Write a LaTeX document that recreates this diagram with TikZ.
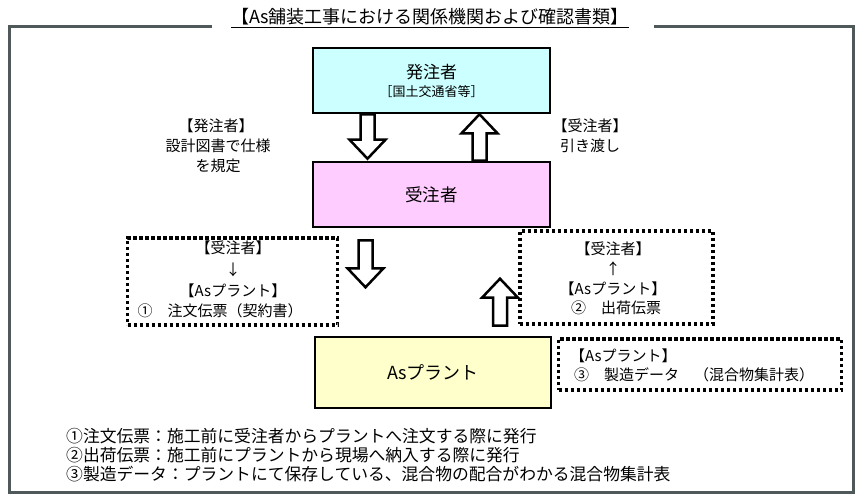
\documentclass[tikz,border=0pt]{standalone}
\usepackage{fontspec}
\setmainfont{Noto Sans CJK JP}
\usetikzlibrary{calc}
\definecolor{framegray}{HTML}{4F5959}
\definecolor{boxcyan}{HTML}{CCFFFF}
\definecolor{boxpink}{HTML}{FFCCFF}
\definecolor{boxyellow}{HTML}{FFFFCC}
\tikzset{
  mainbox/.style={draw=black, line width=2.6pt, minimum width=237pt, minimum height=65pt, inner sep=0pt},
  dotbox/.style={draw=black, line width=3.3pt, dash pattern=on 3.3pt off 2.7pt, inner sep=0pt},
  blk/.style={draw=black, line width=2.5pt, fill=white, line join=miter},
  frameline/.style={draw=framegray, line width=3pt},
  tA/.style={font=\fontsize{15}{18}\selectfont, inner sep=0pt},
  tB/.style={font=\fontsize{17}{20}\selectfont, inner sep=0pt},
  tS/.style={font=\fontsize{13}{16}\selectfont, inner sep=0pt},
  tN/.style={font=\fontsize{16.8}{19}\selectfont, inner sep=0pt, anchor=west},
}
\newcommand{\blkdown}[2]{\draw[blk] let \p1=(#1), \p2=(#2) in (\x1-7pt,\y1) -- (\x1-7pt,\y2+19pt) -- (\x1-18pt,\y2+19pt) -- (\x1,\y2) -- (\x1+18pt,\y2+19pt) -- (\x1+7pt,\y2+19pt) -- (\x1+7pt,\y1) -- cycle;}
\newcommand{\blkup}[2]{\draw[blk] let \p1=(#1), \p2=(#2) in (\x1-7pt,\y1) -- (\x1-7pt,\y2-19pt) -- (\x1-18pt,\y2-19pt) -- (\x1,\y2) -- (\x1+18pt,\y2-19pt) -- (\x1+7pt,\y2-19pt) -- (\x1+7pt,\y1) -- cycle;}
\begin{document}
\begin{tikzpicture}[x=1pt,y=-1pt]
\useasboundingbox[fill=white] (0,0) rectangle (865,502);
% title and frame
\node[font=\fontsize{18}{21}\selectfont, inner sep=0pt] (title) at (430,18) {\underline{【As舗装工事における関係機関および確認書類】}};
\coordinate (fl) at (212,27);
\coordinate (fr) at (654,27);
\draw[frameline] (fl) -- (9,27) -- (9,492) -- (853,492) -- (853,27) -- (fr);
% main boxes
\node[mainbox, fill=boxcyan] (hatchu) at (431.5,80.5) {};
\node[tB] (hatchuT) at (431.5,72) {発注者};
\node[tS] (hatchuS) at (431.5,92) {［国土交通省等］};
\node[mainbox, fill=boxpink, font=\fontsize{17.5}{20}\selectfont] (juchu) at (431.5,194.5) {受注者};
\node[mainbox, fill=boxyellow, minimum width=236pt, minimum height=71pt, font=\fontsize{18}{21}\selectfont] (plant) at (433,372.5) {Asプラント};
% side labels
\node[tA] (lab1a) at (216,126) {【発注者】};
\node[tA] (lab1b) at (218,146) {設計図書で仕様};
\node[tA] (lab1c) at (218,166) {を規定};
\node[tA] (lab2a) at (590,126) {【受注者】};
\node[tA] (lab2b) at (590,146) {引き渡し};
% dotted boxes
\node[dotbox, minimum width=210pt, minimum height=87pt] (order) at (232.5,281.5) {};
\node[tA] (o1) at (233,248) {【受注者】};
\node[tA] (o2) at (233,270) {↓};
\node[tA] (o3) at (233,291) {【Asプラント】};
\node[tA] (o4) at (220,311) {①　注文伝票（契約書）};
\node[dotbox, minimum width=193pt, minimum height=93pt] (ship) at (616.5,277.5) {};
\node[tA] (s1) at (613,249) {【受注者】};
\node[tA] (s2) at (613,269) {↑};
\node[tA] (s3) at (613,289) {【Asプラント】};
\node[tA] (s4) at (616,308) {②　出荷伝票};
\node[dotbox, minimum width=283pt, minimum height=51pt] (data) at (700,364.5) {};
\node[tA, anchor=west] (d1) at (570,356) {【Asプラント】};
\node[tA, anchor=west] (d2) at (574,375) {③　製造データ　（混合物集計表）};
% block arrows
\coordinate (a1s) at ([xshift=-64pt]hatchu.south);
\coordinate (a1e) at ([xshift=-64pt,yshift=2pt]juchu.north);
\blkdown{a1s}{a1e}
\coordinate (a2s) at ([xshift=48pt]juchu.north);
\coordinate (a2e) at ([xshift=48pt]hatchu.south);
\blkup{a2s}{a2e}
\coordinate (a3s) at ([xshift=-66pt,yshift=-12pt]juchu.south);
\coordinate (a3e) at ([xshift=-66pt,yshift=-59pt]juchu.south);
\blkdown{a3s}{a3e}
\coordinate (a4s) at ([xshift=67pt,yshift=10pt]plant.north);
\coordinate (a4e) at ([xshift=67pt,yshift=57pt]plant.north);
\blkup{a4s}{a4e}
% notes
\node[tN] (n1) at (66,436) {①注文伝票：施工前に受注者からプラントへ注文する際に発行};
\node[tN] (n2) at (66,455) {②出荷伝票：施工前にプラントから現場へ納入する際に発行};
\node[tN] (n3) at (66,474) {③製造データ：プラントにて保存している、混合物の配合がわかる混合物集計表};
\end{tikzpicture}
\end{document}
